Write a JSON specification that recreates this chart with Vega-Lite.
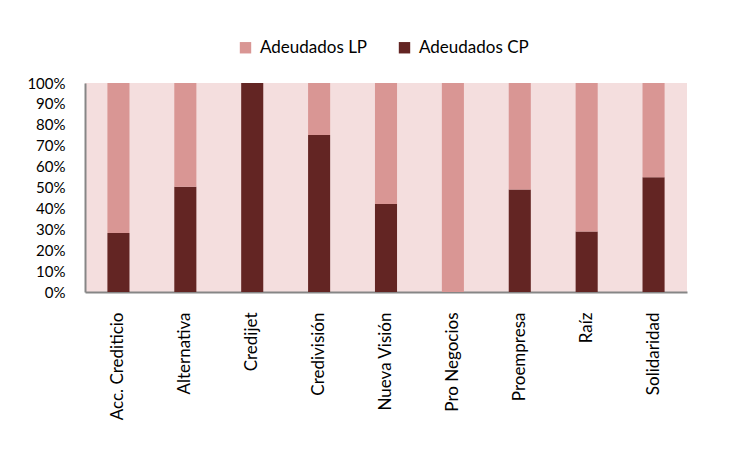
{
  "$schema": "https://vega.github.io/schema/vega-lite/v6.json",
  "width": 602,
  "height": 209,
  "autosize": "none",
  "padding": {"left": 85, "top": 83, "right": 55, "bottom": 160},
  "background": "white",
  "config": {
    "font": "Lato",
    "view": {"fill": "#F4DEDE", "stroke": null},
    "axis": {"grid": false, "ticks": false, "domainColor": "#868686", "domainWidth": 2, "labelColor": "#000000", "labelFont": "Lato", "labelOverlap": false, "title": null}
  },
  "data": {
    "values": [
      {"entidad": "Acc. Crediticio", "serie": "Adeudados CP", "valor": 28.2},
      {"entidad": "Acc. Crediticio", "serie": "Adeudados LP", "valor": 71.8},
      {"entidad": "Alternativa", "serie": "Adeudados CP", "valor": 50.4},
      {"entidad": "Alternativa", "serie": "Adeudados LP", "valor": 49.6},
      {"entidad": "Credijet", "serie": "Adeudados CP", "valor": 100},
      {"entidad": "Credijet", "serie": "Adeudados LP", "valor": 0},
      {"entidad": "Credivisión", "serie": "Adeudados CP", "valor": 75.1},
      {"entidad": "Credivisión", "serie": "Adeudados LP", "valor": 24.9},
      {"entidad": "Nueva Visión", "serie": "Adeudados CP", "valor": 42.1},
      {"entidad": "Nueva Visión", "serie": "Adeudados LP", "valor": 57.9},
      {"entidad": "Pro Negocios", "serie": "Adeudados CP", "valor": 0},
      {"entidad": "Pro Negocios", "serie": "Adeudados LP", "valor": 100},
      {"entidad": "Proempresa", "serie": "Adeudados CP", "valor": 49.1},
      {"entidad": "Proempresa", "serie": "Adeudados LP", "valor": 50.9},
      {"entidad": "Raíz", "serie": "Adeudados CP", "valor": 28.9},
      {"entidad": "Raíz", "serie": "Adeudados LP", "valor": 71.1},
      {"entidad": "Solidaridad", "serie": "Adeudados CP", "valor": 54.9},
      {"entidad": "Solidaridad", "serie": "Adeudados LP", "valor": 45.1}
    ]
  },
  "mark": {"type": "bar"},
  "encoding": {
    "x": {
      "field": "entidad", "type": "nominal", "sort": null,
      "scale": {"paddingInner": 0.67, "paddingOuter": 0.335},
      "axis": {"labelAngle": -90, "labelPadding": 20, "labelAlign": "right", "labelBaseline": "middle", "labelFontSize": 17}
    },
    "y": {
      "field": "valor", "type": "quantitative", "stack": "normalize",
      "scale": {"domain": [0, 1]},
      "axis": {"format": ".0%", "values": [0,0.1,0.2,0.3,0.4,0.5,0.6,0.7,0.8,0.9,1], "labelPadding": 20, "labelFontSize": 15}
    },
    "order": {"field": "serie", "type": "nominal", "sort": "ascending"},
    "color": {
      "field": "serie", "type": "nominal",
      "scale": {"domain": ["Adeudados LP", "Adeudados CP"], "range": ["#D99694", "#632523"]},
      "legend": {"orient": "none", "legendX": 152, "legendY": -44, "direction": "horizontal", "title": null, "symbolType": "square", "symbolSize": 130, "symbolStrokeWidth": 0, "labelFontSize": 17, "labelFont": "Lato", "labelColor": "#000000", "columnPadding": 28, "labelOffset": 6}
    }
  }
}
